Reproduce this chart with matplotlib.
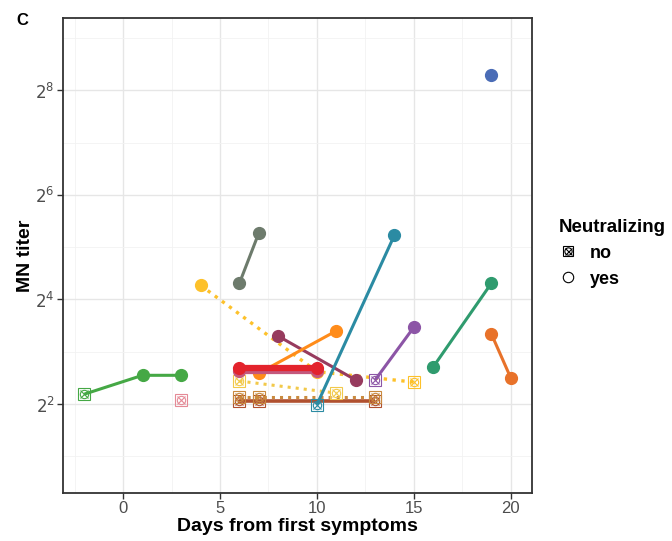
import numpy as np
import matplotlib.pyplot as plt
from matplotlib.ticker import FixedLocator, NullFormatter
from matplotlib.lines import Line2D
from matplotlib.legend_handler import HandlerTuple

plt.rcParams["font.family"] = ["Liberation Sans", "DejaVu Sans"]

# one patient per series: days from first symptoms, log2(MN titer), neutralizing flag
days_green = [-2, 1, 3]
log2_green = [2.19, 2.55, 2.55]
neut_green = [False, True, True]

days_pink = [3]
log2_pink = [2.08]
neut_pink = [False]

days_grey = [6, 7]
log2_grey = [4.31, 5.27]
neut_grey = [True, True]

days_yellow_a = [4, 10, 15]
log2_yellow_a = [4.27, 2.62, 2.42]
neut_yellow_a = [True, True, False]

days_yellow_b = [6, 11]
log2_yellow_b = [2.44, 2.21]
neut_yellow_b = [False, False]

days_brown = [6, 7, 13]
log2_brown = [2.06, 2.06, 2.06]
neut_brown = [False, False, False]

days_ochre = [6, 7, 13]
log2_ochre = [2.13, 2.13, 2.13]
neut_ochre = [False, False, False]

days_mauve = [6, 10]
log2_mauve = [2.63, 2.63]
neut_mauve = [True, True]

days_red = [6, 10]
log2_red = [2.69, 2.69]
neut_red = [True, True]

days_maroon = [8, 12]
log2_maroon = [3.30, 2.46]
neut_maroon = [True, True]

days_orange = [7, 11]
log2_orange = [2.59, 3.40]
neut_orange = [True, True]

days_teal = [10, 14]
log2_teal = [1.99, 5.23]
neut_teal = [False, True]

days_purple = [13, 15]
log2_purple = [2.46, 3.47]
neut_purple = [False, True]

days_sea = [16, 19]
log2_sea = [2.71, 4.31]
neut_sea = [True, True]

days_rust = [19, 20]
log2_rust = [3.34, 2.50]
neut_rust = [True, True]

days_blue = [19]
log2_blue = [8.29]
neut_blue = [True]

# (days, log2 titer, neutralizing, colour, line width, line style)
series = [
    (days_green, log2_green, neut_green, "#45A845", 2.2, "-"),
    (days_pink, log2_pink, neut_pink, "#E58A96", 2.2, "-"),
    (days_grey, log2_grey, neut_grey, "#6D7B6C", 2.2, "-"),
    (days_brown, log2_brown, neut_brown, "#B0502F", 2.6, "-"),
    (days_ochre, log2_ochre, neut_ochre, "#C98A3E", 2.2, ":"),
    (days_yellow_b, log2_yellow_b, neut_yellow_b, "#F2C94A", 2.2, ":"),
    (days_yellow_a, log2_yellow_a, neut_yellow_a, "#FDC12A", 2.4, ":"),
    (days_maroon, log2_maroon, neut_maroon, "#973B5E", 2.2, "-"),
    (days_orange, log2_orange, neut_orange, "#FF8C1A", 2.2, "-"),
    (days_mauve, log2_mauve, neut_mauve, "#C4587C", 4.5, "-"),
    (days_red, log2_red, neut_red, "#E3232C", 4.5, "-"),
    (days_teal, log2_teal, neut_teal, "#2B8BA3", 2.2, "-"),
    (days_purple, log2_purple, neut_purple, "#8C55A6", 2.2, "-"),
    (days_sea, log2_sea, neut_sea, "#2F9B6E", 2.2, "-"),
    (days_rust, log2_rust, neut_rust, "#E8722A", 2.2, "-"),
    (days_blue, log2_blue, neut_blue, "#4A6CB6", 2.2, "-"),
]


def no_parts(color, size=8):
    # ggplot-like crossed symbol: square + circle + x
    return [dict(marker="s", ms=size, mfc="none", mec=color, mew=0.8),
            dict(marker="o", ms=size * 0.75, mfc="none", mec=color, mew=0.8),
            dict(marker="x", ms=size * 0.72, mec=color, mew=0.8)]


fig = plt.figure(figsize=(6.72, 5.41), dpi=100)
ax = fig.add_axes([0.0938, 0.0887, 0.698, 0.878])

for i, (d, l2, neut, color, lw, ls) in enumerate(series):
    d = np.array(d)
    titer = 2.0 ** np.array(l2)
    neut = np.array(neut)
    z = 3 + i * 0.1
    if len(d) > 1:
        ax.plot(d, titer, color=color, lw=lw, ls=ls, zorder=z, solid_capstyle="butt")
    if neut.any():
        ax.plot(d[neut], titer[neut], ls="none", marker="o", ms=8.5,
                color=color, mec=color, zorder=z + 0.05)
    if (~neut).any():
        for kw in no_parts(color):
            ax.plot(d[~neut], titer[~neut], ls="none", zorder=z + 0.05, **kw)

ax.set_yscale("log", base=2)
ax.set_xlim(-3.1, 21.1)
ax.set_ylim(2 ** 0.30, 2 ** 9.38)

ax.xaxis.set_major_locator(FixedLocator([0, 5, 10, 15, 20]))
ax.xaxis.set_minor_locator(FixedLocator([-2.5, 2.5, 7.5, 12.5, 17.5]))
ax.yaxis.set_major_locator(FixedLocator([4, 16, 64, 256]))
ax.yaxis.set_minor_locator(FixedLocator([2, 8, 32, 128, 512]))
ax.yaxis.set_minor_formatter(NullFormatter())
ax.set_yticklabels(["$2^{2}$", "$2^{4}$", "$2^{6}$", "$2^{8}$"])

ax.grid(True, which="major", color="#E6E6E6", lw=1.0, zorder=0)
ax.grid(True, which="minor", color="#F2F2F2", lw=0.6, zorder=0)
ax.set_axisbelow(True)
ax.tick_params(which="major", length=4, width=1, color="#333333",
               labelcolor="#4D4D4D", labelsize=12, pad=2)
ax.tick_params(which="minor", length=0)
for sp in ax.spines.values():
    sp.set_color("#333333")
    sp.set_linewidth(1.3)

ax.set_xlabel("Days from first symptoms", fontsize=14, fontweight="bold", labelpad=1)
ax.set_ylabel("MN titer", fontsize=14, fontweight="bold", labelpad=1)

fig.text(0.033, 0.962, "C", fontsize=12, fontweight="bold", ha="center", va="center")

h_no = tuple(Line2D([], [], ls="none", **kw) for kw in no_parts("black", 7))
h_yes = Line2D([], [], ls="none", marker="o", ms=7.5, mfc="none", mec="black", mew=0.8)
leg = fig.legend([h_no, h_yes], ["no", "yes"], title="Neutralizing", loc="upper left",
                 bbox_to_anchor=(0.808, 0.626), frameon=False,
                 handlelength=1.0, handletextpad=0.7, labelspacing=0.5,
                 handler_map={tuple: HandlerTuple(ndivide=1, pad=0)},
                 prop={"weight": "bold", "size": 13},
                 title_fontproperties={"weight": "bold", "size": 13.5})
leg._legend_box.align = "left"

fig.savefig("out.png", dpi=100)
